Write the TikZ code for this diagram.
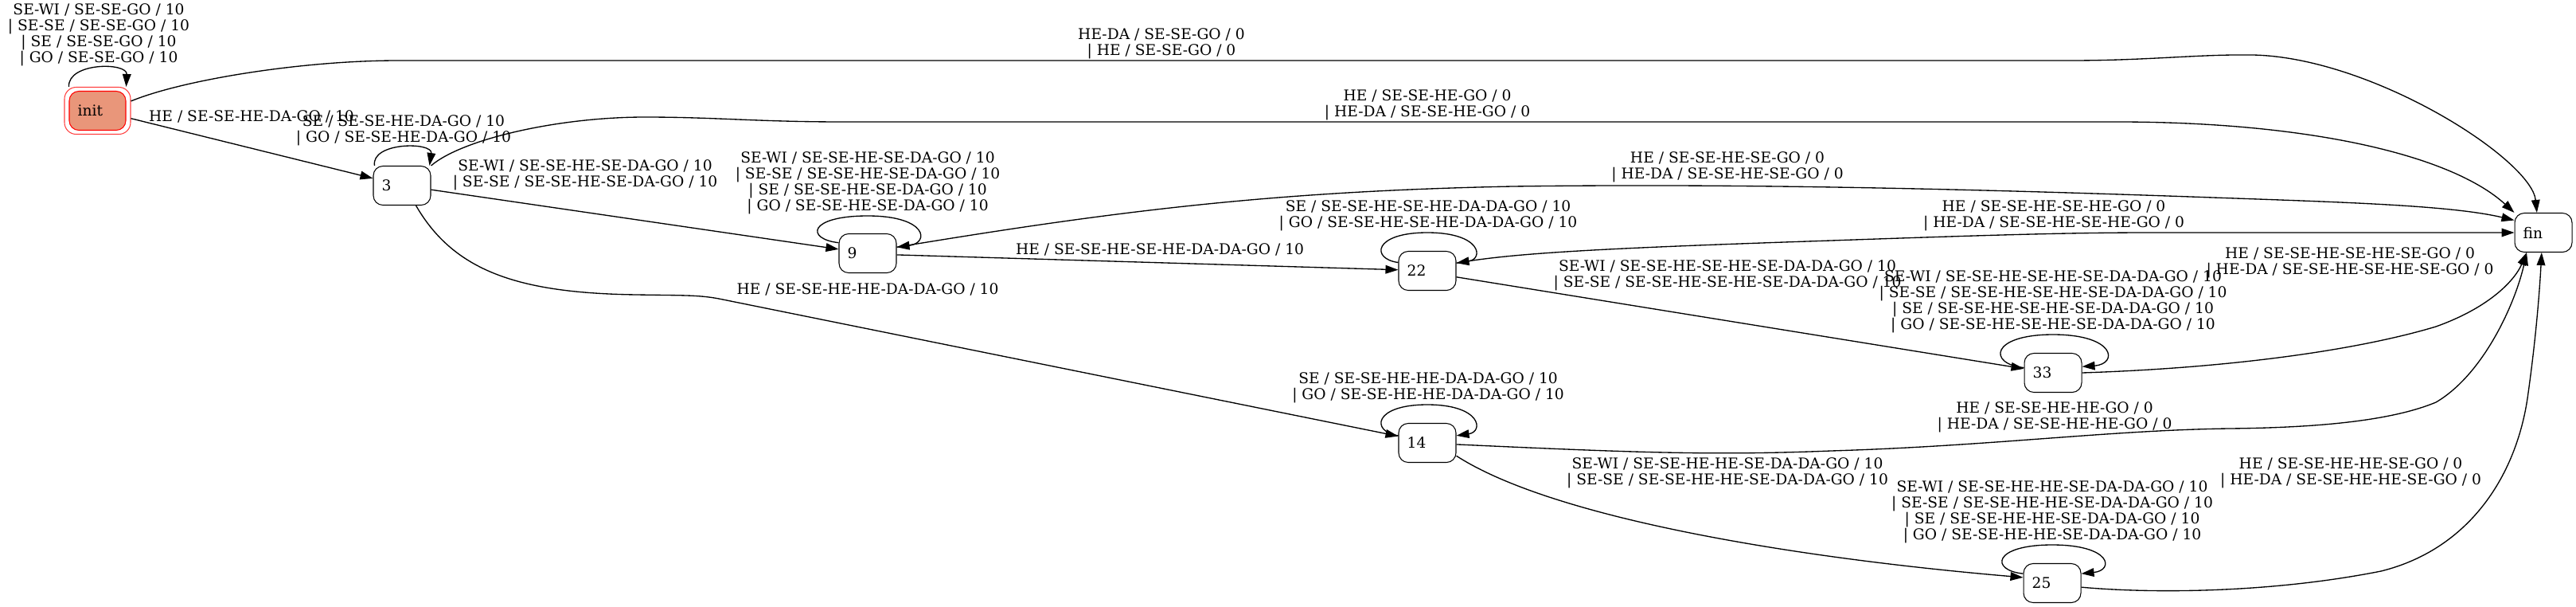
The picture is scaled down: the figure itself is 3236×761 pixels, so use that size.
\documentclass[tikz,border=0pt]{standalone}
\usepackage{fontspec}
\setmainfont{DejaVu Serif}
\usetikzlibrary{arrows.meta}
\definecolor{salmonfill}{HTML}{E9967A}
\definecolor{outerred}{HTML}{FF4040}
\tikzset{
  state/.style={draw, rounded corners=9pt, minimum width=54pt, minimum height=36.75pt,
    text width=38pt, align=left, inner xsep=8pt, inner ysep=0pt, line width=0.8pt,
    font=\fontsize{14}{15}\selectfont},
  initouterbox/.style={draw=outerred, rounded corners=11pt, minimum width=62.25pt,
    minimum height=44.25pt, inner sep=0pt, line width=0.8pt},
  initbox/.style={state, draw=red, fill=salmonfill, minimum width=53.25pt, text width=37.25pt},
  lbl/.style={align=center, inner sep=0pt, font=\fontsize{14}{15}\selectfont},
  edge/.style={draw, line width=1pt, -{Triangle[length=12pt,width=8pt]}},
}
\begin{document}
\begin{tikzpicture}[x=0.75pt,y=-0.75pt]
\useasboundingbox (0,0) rectangle (3236,761);
% states
\node[initouterbox] (initouter) at (122.5,139) {};
\node[initbox] (init) at (122.5,139) {init};
\node[state] (n3) at (505,233) {3};
\node[state] (n9) at (1090,318) {9};
\node[state] (n22) at (1793,340) {22};
\node[state] (n14) at (1793,556) {14};
\node[state] (n33) at (2579,468) {33};
\node[state] (n25) at (2578,732) {25};
\node[state] (fin) at (3195,292) {fin};
% labels
\node[lbl] (linitloop) at (124,43.5) {SE-WI / SE-SE-GO / 10\\| SE-SE / SE-SE-GO / 10\\| SE / SE-SE-GO / 10\\| GO / SE-SE-GO / 10};
\node[lbl] (linitfin) at (1459,55) {HE-DA / SE-SE-GO / 0\\| HE / SE-SE-GO / 0};
\node[lbl] (linit3) at (316,146) {HE / SE-SE-HE-DA-GO / 10};
\node[lbl] (l3loop) at (507,163.5) {SE / SE-SE-HE-DA-GO / 10\\| GO / SE-SE-HE-DA-GO / 10};
\node[lbl] (l3fin) at (1793,131.5) {HE / SE-SE-HE-GO / 0\\| HE-DA / SE-SE-HE-GO / 0};
\node[lbl] (l39) at (735,220) {SE-WI / SE-SE-HE-SE-DA-GO / 10\\| SE-SE / SE-SE-HE-SE-DA-GO / 10};
\node[lbl] (l314) at (1090,363) {HE / SE-SE-HE-HE-DA-DA-GO / 10};
\node[lbl] (l9loop) at (1090,229.5) {SE-WI / SE-SE-HE-SE-DA-GO / 10\\| SE-SE / SE-SE-HE-SE-DA-GO / 10\\| SE / SE-SE-HE-SE-DA-GO / 10\\| GO / SE-SE-HE-SE-DA-GO / 10};
\node[lbl] (l922) at (1457,313) {HE / SE-SE-HE-SE-HE-DA-DA-GO / 10};
\node[lbl] (l9fin) at (2170,210) {HE / SE-SE-HE-SE-GO / 0\\| HE-DA / SE-SE-HE-SE-GO / 0};
\node[lbl] (l22loop) at (1794,270.5) {SE / SE-SE-HE-SE-HE-DA-DA-GO / 10\\| GO / SE-SE-HE-SE-HE-DA-DA-GO / 10};
\node[lbl] (l22fin) at (2580,270.5) {HE / SE-SE-HE-SE-HE-GO / 0\\| HE-DA / SE-SE-HE-SE-HE-GO / 0};
\node[lbl] (l2233) at (2170,345.5) {SE-WI / SE-SE-HE-SE-HE-SE-DA-DA-GO / 10\\| SE-SE / SE-SE-HE-SE-HE-SE-DA-DA-GO / 10};
\node[lbl] (l33loop) at (2579,379) {SE-WI / SE-SE-HE-SE-HE-SE-DA-DA-GO / 10\\| SE-SE / SE-SE-HE-SE-HE-SE-DA-DA-GO / 10\\| SE / SE-SE-HE-SE-HE-SE-DA-DA-GO / 10\\| GO / SE-SE-HE-SE-HE-SE-DA-DA-GO / 10};
\node[lbl] (l33fin) at (2952,330) {HE / SE-SE-HE-SE-HE-SE-GO / 0\\| HE-DA / SE-SE-HE-SE-HE-SE-GO / 0};
\node[lbl] (l14loop) at (1794,487) {SE / SE-SE-HE-HE-DA-DA-GO / 10\\| GO / SE-SE-HE-HE-DA-DA-GO / 10};
\node[lbl] (l14fin) at (2581,523.5) {HE / SE-SE-HE-HE-GO / 0\\| HE-DA / SE-SE-HE-HE-GO / 0};
\node[lbl] (l1425) at (2170,594) {SE-WI / SE-SE-HE-HE-SE-DA-DA-GO / 10\\| SE-SE / SE-SE-HE-HE-SE-DA-DA-GO / 10};
\node[lbl] (l25loop) at (2578,643) {SE-WI / SE-SE-HE-HE-SE-DA-DA-GO / 10\\| SE-SE / SE-SE-HE-HE-SE-DA-DA-GO / 10\\| SE / SE-SE-HE-HE-SE-DA-DA-GO / 10\\| GO / SE-SE-HE-HE-SE-DA-DA-GO / 10};
\node[lbl] (l25fin) at (2953,594) {HE / SE-SE-HE-HE-SE-GO / 0\\| HE-DA / SE-SE-HE-HE-SE-GO / 0};
% edges
\draw[edge] ([xshift=4.5pt]initouter.north west) .. controls (85,78) and (160,78) .. ([xshift=-4.5pt]initouter.north east);
\draw[edge] (initouter.16) .. controls (230,100) and (380,76) .. (500,76) -- (2600,76) .. controls (2700,76) and (2760,68) .. (2830,69) .. controls (2980,72) and (3180,200) .. (fin.108);
\draw[edge] (initouter.-13) -- (n3.166);
\draw[edge] ([xshift=1.5pt]n3.north west) .. controls (466,178) and (544,178) .. ([xshift=-1.5pt]n3.north east);
\draw[edge] (n3.north east) .. controls (580,175) and (700,147) .. (810,147) .. controls (900,147) and (950,153) .. (1060,153) -- (2650,153) .. controls (2900,152) and (3080,195) .. (fin.north west);
\draw[edge] (n3.-8) -- (n9.172);
\draw[edge] (n3.-55) .. controls (570,340) and (650,368) .. (800,370) .. controls (860,371) and (880,370) .. (908,376) -- (n14.167);
\draw[edge] (n9.160) .. controls (1012,300) and (1015,271) .. (1090,271) .. controls (1165,271) and (1168,305) .. (n9.12);
\draw[edge] (n9.-3) -- (n22.178);
\draw[edge] (n9.12) .. controls (1400,265) and (1600,240) .. (1900,234) .. controls (2200,230) and (2500,238) .. (2780,248) .. controls (2950,254) and (3080,258) .. (fin.157);
\draw[edge] (n22.164) .. controls (1722,325) and (1725,292) .. (1793,292) .. controls (1861,292) and (1864,325) .. (n22.15);
\draw[edge] (n22.15) .. controls (1900,318) and (2000,312) .. (2300,302) .. controls (2500,295) and (2600,292) .. (2700,292) -- (fin.west);
\draw[edge] (n22.-12) -- (n33.172);
\draw[edge] (n33.170) .. controls (2497,457) and (2500,420) .. (2579,420) .. controls (2658,420) and (2661,457) .. (n33.12);
\draw[edge] (n33.east) .. controls (2800,462) and (2960,440) .. (3060,410) .. controls (3130,385) and (3160,350) .. (fin.-130);
\draw[edge] (n14.166) .. controls (1722,542) and (1725,508) .. (1793,508) .. controls (1861,508) and (1864,542) .. (n14.14);
\draw[edge] (n14.-3) .. controls (2050,568) and (2150,572) .. (2300,566) .. controls (2500,560) and (2650,540) .. (2800,538) .. controls (2900,537) and (3000,530) .. (3060,505) .. controls (3120,470) and (3160,380) .. (fin.-130);
\draw[edge] (n14.-24) .. controls (1950,650) and (2250,700) .. (n25.169);
\draw[edge] (n25.162) .. controls (2500,716) and (2503,684) .. (2578,684) .. controls (2653,684) and (2656,716) .. (n25.18);
\draw[edge] (n25.-8) .. controls (2700,745) and (2850,745) .. (2991,717) .. controls (3100,690) and (3160,600) .. (3175,500) .. controls (3185,430) and (3190,370) .. (fin.-95);
\end{tikzpicture}
\end{document}
